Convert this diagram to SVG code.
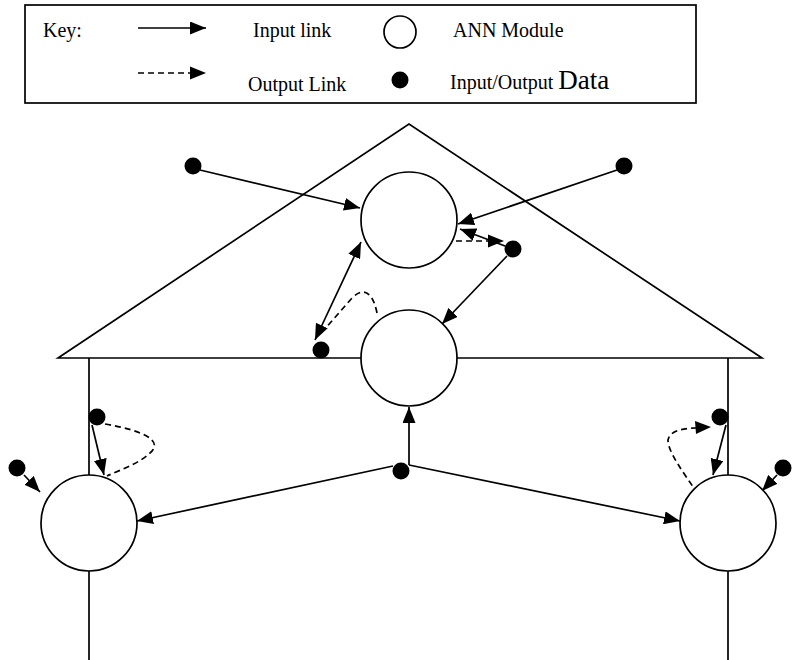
<svg xmlns="http://www.w3.org/2000/svg" width="793" height="660" viewBox="0 0 793 660">
<defs>
<marker id="ah" markerUnits="userSpaceOnUse" markerWidth="17" markerHeight="13" refX="16" refY="6.5" orient="auto-start-reverse" viewBox="0 0 17 13"><path d="M0,0 L16,6.5 L0,13 z" fill="#000"/></marker>
<style>
.ln{stroke:#000;stroke-width:1.7;fill:none}
.in{stroke:#000;stroke-width:1.7;fill:none;marker-end:url(#ah)}
.out{stroke:#000;stroke-width:1.7;fill:none;stroke-dasharray:6,4}
.mod{fill:#fff;stroke:#000;stroke-width:1.7}
.dot{fill:#000}
.t{font-family:"Liberation Serif","Times New Roman",serif;font-size:20px;fill:#000}
</style>
</defs>
<rect width="793" height="660" fill="#fff"/>
<g id="key">
<rect x="25" y="5" width="671" height="98" fill="#fff" stroke="#000" stroke-width="1.7"/>
<text class="t" x="43" y="37">Key:</text>
<line class="in" x1="138" y1="28" x2="206" y2="28"/>
<text class="t" x="253" y="37">Input link</text>
<circle class="mod" cx="400" cy="32" r="16"/>
<text class="t" x="453" y="37">ANN Module</text>
<line class="out" x1="138" y1="73" x2="192" y2="73"/>
<path d="M190,66.5 L206,73 L190,79.5 z" fill="#000"/>
<text class="t" x="248" y="91">Output Link</text>
<circle class="dot" cx="400" cy="80" r="8.5"/>
<text class="t" x="450" y="89">Input/Output <tspan font-size="27px">Data</tspan></text>
</g>
<g id="triangle">
<path class="ln" d="M58,358 L409,124 L762,358 Z"/>
<line class="ln" x1="89" y1="358" x2="89" y2="476"/>
<line class="ln" x1="728" y1="358" x2="728" y2="476"/>
<line class="ln" x1="89" y1="570" x2="89" y2="660"/>
<line class="ln" x1="728" y1="570" x2="728" y2="660"/>
</g>
<g id="connectors">
<line class="in" x1="200" y1="170" x2="360" y2="208"/>
<line class="in" x1="617" y1="170" x2="458" y2="224"/>
<line class="in" x1="505" y1="246" x2="460" y2="229"/>
<line class="out" x1="456" y1="241" x2="489" y2="241"/>
<path d="M488,234.5 L504,241 L488,247.5 z" fill="#000"/>
<line class="in" x1="507" y1="256" x2="442" y2="324"/>
<line class="in" x1="315" y1="340" x2="361" y2="242" style="marker-start:url(#ah)"/>
<path class="out" d="M377,313 C374,297 366,284 352,298 L324,330"/>
<line class="in" x1="409" y1="465" x2="409" y2="407"/>
<line class="in" x1="393" y1="466" x2="137" y2="521"/>
<line class="in" x1="409" y1="465" x2="680" y2="521"/>
<line class="in" x1="92" y1="425" x2="104" y2="475"/>
<path class="out" d="M105,424 C140,430 165,440 150,453 C140,463 120,470 107,476"/>
<line class="in" x1="24" y1="475" x2="40" y2="492"/>
<line class="in" x1="726" y1="425" x2="713" y2="475"/>
<path class="out" d="M698,494 C683,472 668,452 668,440 C670,430 685,428 697,428"/>
<path d="M695,421 L711,427 L696,434 z" fill="#000"/>
<line class="in" x1="777" y1="475" x2="762" y2="491"/>
</g>
<g id="modules">
<circle id="m-top" class="mod" cx="409" cy="220" r="48"/>
<circle id="m-mid" class="mod" cx="409" cy="358" r="48"/>
<circle id="m-left" class="mod" cx="89" cy="523" r="48"/>
<circle id="m-right" class="mod" cx="728" cy="523" r="48"/>
</g>
<g id="data">
<circle class="dot" cx="193" cy="166" r="8.5"/>
<circle class="dot" cx="624" cy="166" r="8.5"/>
<circle class="dot" cx="513" cy="249" r="8.5"/>
<circle class="dot" cx="321" cy="350" r="8.5"/>
<circle class="dot" cx="97" cy="417" r="8.5"/>
<circle class="dot" cx="17" cy="468" r="8.5"/>
<circle class="dot" cx="720" cy="417" r="8.5"/>
<circle class="dot" cx="783" cy="468" r="8.5"/>
<circle class="dot" cx="401" cy="471" r="8.5"/>
</g>
</svg>
